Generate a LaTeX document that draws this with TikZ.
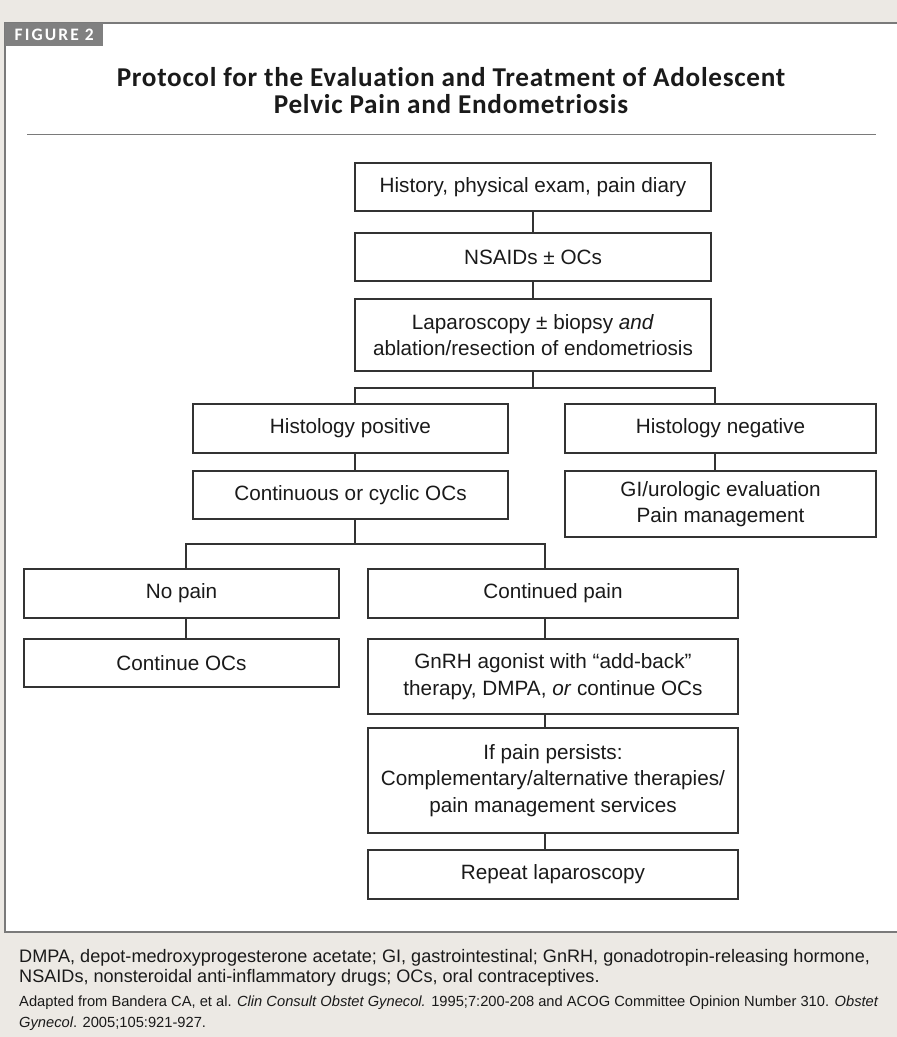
\documentclass[tikz,border=0pt]{standalone}
\usepackage{fontspec}
\setmainfont{Liberation Sans}
\newfontfamily\titlefont[Ligatures=NoCommon, LetterSpace=2.6]{Carlito}
\newfontfamily\tabfont[Ligatures=NoCommon]{Carlito}
\definecolor{bg}{HTML}{ECE9E4}
\definecolor{tabgray}{HTML}{808080}
\definecolor{framegray}{HTML}{7A7A7A}
\definecolor{boxline}{HTML}{333333}
\definecolor{ink}{HTML}{1A1A1A}
\begin{document}
\begin{tikzpicture}[x=1pt,y=-1pt,
  box/.style={draw=boxline, line width=1.3pt, fill=white, align=center, inner sep=0pt,
    font=\fontsize{20.7}{26.5}\selectfont, text=ink},
  link/.style={draw=boxline, line width=1.3pt},
  capt/.style={anchor=base west, inner sep=0pt, text=ink},
  ttl/.style={anchor=base, inner sep=0pt, text=ink, font=\titlefont\bfseries\fontsize{27.2}{29}\selectfont}]
\useasboundingbox (0,0) rectangle (897,1037);
\fill[bg] (0,0) rectangle (897,1037);
\fill[white] (5,23) rectangle (897,932);
\draw[framegray, line width=1.5pt] (897,23) -- (5,23) -- (5,932) -- (897,932);
% tab
\node[fill=tabgray, anchor=north west, minimum width=98pt, minimum height=23pt, inner sep=0pt,
  text=white, font=\tabfont\bfseries\fontsize{17.5}{17.5}\selectfont\addfontfeatures{LetterSpace=12}] (tab) at (5,23) {FIGURE 2};
% title
\node[ttl] (title1) at (451,86.7) {Protocol for the Evaluation and Treatment of Adolescent};
\node[ttl] (title2) at (451,113.5) {Pelvic Pain and Endometriosis};
\draw[framegray, line width=1pt] (27,134) -- (876,134);
% boxes
\node[box, minimum width=356pt, minimum height=48pt] (b1) at (533,187) {History, physical exam, pain diary};
\node[box, minimum width=356pt, minimum height=48pt] (b2) at (533,257) {NSAIDs ± OCs};
\node[box, minimum width=356pt, minimum height=72pt] (b3) at (533,335) {Laparoscopy ± biopsy \textit{and}\\ablation/resection of endometriosis};
\node[box, minimum width=315pt, minimum height=49pt] (hp) at (350.5,428.5) {Histology positive};
\node[box, minimum width=311pt, minimum height=49pt] (hn) at (720.5,428.5) {Histology negative};
\node[box, minimum width=315pt, minimum height=48pt] (co) at (350.5,495) {Continuous or cyclic OCs};
\node[box, minimum width=311pt, minimum height=66pt] (gi) at (720.5,504) {GI/urologic evaluation\\Pain management};
\node[box, minimum width=315pt, minimum height=49pt] (np) at (181.5,593.5) {No pain};
\node[box, minimum width=370pt, minimum height=49pt] (cp) at (553,593.5) {Continued pain};
\node[box, minimum width=315pt, minimum height=48pt] (cn) at (181.5,663) {Continue OCs};
\node[box, minimum width=370pt, minimum height=75pt] (gn) at (553,676.5) {GnRH agonist with “add-back”\\therapy, DMPA, \textit{or} continue OCs};
\node[box, minimum width=370pt, minimum height=105pt] (ip) at (553,780.5) {If pain persists:\\Complementary/alternative therapies/\\pain management services};
\node[box, minimum width=370pt, minimum height=49pt] (rl) at (553,874.5) {Repeat laparoscopy};
% connectors
\coordinate (bus1) at (533,388);
\coordinate (jL) at (355,388);
\coordinate (jR) at (715,388);
\coordinate (bus2) at (355,544);
\coordinate (kL) at (186,544);
\coordinate (kR) at (545,544);
\draw[link] (b1) -- (b2);
\draw[link] (b2) -- (b3);
\draw[link] (b3.south) -- (bus1);
\draw[link] (hp.north -| jL) -- (jL) -- (jR) -- (hn.north -| jR);
\draw[link] (hp.south -| jL) -- (co.north -| jL);
\draw[link] (hn.south -| jR) -- (gi.north -| jR);
\draw[link] (co.south -| bus2) -- (bus2);
\draw[link] (np.north -| kL) -- (kL) -- (kR) -- (cp.north -| kR);
\draw[link] (np.south -| kL) -- (cn.north -| kL);
\draw[link] (cp.south -| kR) -- (gn.north -| kR);
\draw[link] (gn.south -| kR) -- (ip.north -| kR);
\draw[link] (ip.south -| kR) -- (rl.north -| kR);
% caption
\node[capt, font=\fontsize{18.1}{20}\selectfont] (cap1) at (19,962.7) {DMPA, depot-medroxyprogesterone acetate; GI, gastrointestinal; GnRH, gonadotropin-releasing hormone,};
\node[capt, font=\fontsize{18.1}{20}\selectfont] (cap2) at (19,982.7) {NSAIDs, nonsteroidal anti-inflammatory drugs; OCs, oral contraceptives.};
\node[capt, font=\fontsize{14.7}{20}\selectfont] (src1) at (19,1006.7) {Adapted from Bandera CA, et al. \textit{Clin Consult Obstet Gynecol.} 1995;7:200-208 and ACOG Committee Opinion Number 310. \textit{Obstet}};
\node[capt, font=\fontsize{14.7}{20}\selectfont] (src2) at (19,1027) {\textit{Gynecol}. 2005;105:921-927.};
\end{tikzpicture}
\end{document}
